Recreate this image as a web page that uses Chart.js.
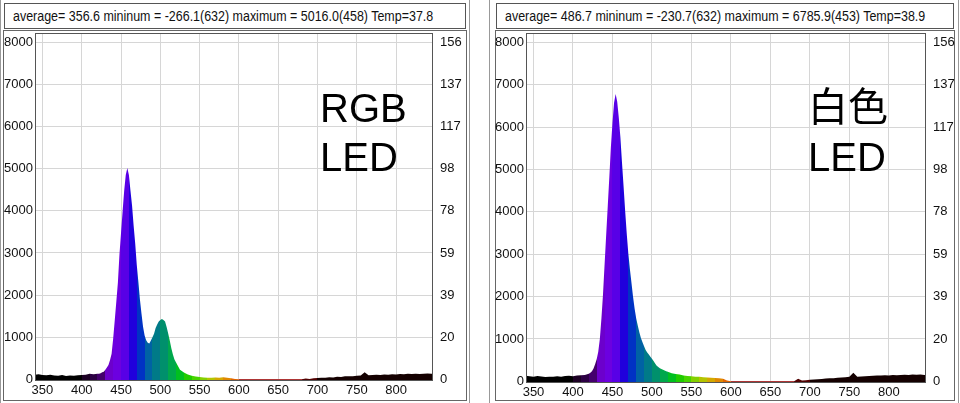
<!DOCTYPE html>
<html>
<head>
<meta charset="utf-8">
<script src="https://cdn.jsdelivr.net/npm/chart.js@4/dist/chart.umd.min.js"></script>
<style>
body{margin:0;width:960px;height:403px;overflow:hidden;background:#fff;position:relative;font-family:"Liberation Sans",Arial,sans-serif}
.frame{position:absolute;top:0;height:403px;border-left:1px solid #999;border-right:1px solid #999}
.head{position:absolute;top:3px;height:26px;border:1px solid #555;box-sizing:border-box;color:#111;white-space:nowrap;overflow:hidden}
.head span{position:absolute;left:8px;top:4px;font-size:14px;line-height:16px;transform:scaleX(0.89);transform-origin:0 0}
.box{position:absolute;top:30px;height:371px;border:1px solid #666;box-sizing:border-box;background:#fff}
canvas{position:absolute}
.big{position:absolute;font-family:"Liberation Sans","Noto Sans CJK SC",sans-serif;font-size:40px;line-height:40px;color:#000}
</style>
</head>
<body>
<div class="frame" style="left:0;width:468px"></div>
<div class="frame" style="left:489px;width:468px"></div>

<div class="head" style="left:4px;width:462px"><span>average= 356.6 mininum = -266.1(632) maximum = 5016.0(458) Temp=37.8</span></div>
<div class="box" style="left:3px;width:464px"></div>
<canvas id="rgbChart" width="468" height="369" style="left:0;top:31px"></canvas>
<div class="big" style="left:320px;top:88px">RGB</div>
<div class="big" style="left:320px;top:137px">LED</div>

<div class="head" style="left:496px;width:458px"><span>average= 486.7 mininum = -230.7(632) maximum = 6785.9(453) Temp=38.9</span></div>
<div class="box" style="left:495px;width:460px"></div>
<canvas id="whiteChart" width="470" height="371" style="left:490px;top:31px"></canvas>
<div class="big" style="left:808px;top:87px">白色</div>
<div class="big" style="left:808px;top:137px">LED</div>

<script>
// wavelength (nm) of each sample
const wavelengths = [
  340,345,350,355,360,365,370,375,380,385,390,395,400,405,410,415,420,
  422,424,426,428,430,432,434,436,438,440,442,444,446,448,450,452,454,456,458,460,
  462,464,466,468,470,472,474,476,478,480,482,484,486,488,490,492,494,496,498,500,
  502,504,506,508,510,512,514,516,518,520,
  525,530,535,540,545,550,555,560,565,570,575,580,585,590,595,
  600,605,610,615,620,625,630,635,640,645,650,655,660,665,670,675,680,
  685,690,695,700,705,710,715,720,725,730,735,740,745,750,755,760,765,770,775,780,
  785,790,795,800,805,810,815,820,825,830,835,840,845,850
];

// RGB LED spectrum
const rgbLed = [
  110,120,100,95,110,90,85,100,80,90,85,95,100,110,130,120,130,
  135,145,165,180,230,280,340,460,610,970,1400,1850,2300,2970,3480,3990,4480,4850,5016,4850,
  4480,4125,3650,3230,2720,2320,1900,1560,1250,1040,930,870,852,920,1000,1080,1220,1300,1370,1410,
  1430,1410,1370,1240,1090,920,740,590,470,400,
  230,160,115,85,68,55,45,40,35,45,40,50,35,25,10,
  0,0,0,0,0,0,0,0,0,0,0,0,0,0,0,0,0,
  20,10,25,30,35,40,50,45,60,55,70,75,70,85,90,170,95,100,110,105,
  115,110,120,115,125,120,130,125,135,125,130,140,130,135
];

// white LED spectrum
const whiteLed = [
  130,120,110,125,115,100,110,105,120,110,125,130,120,140,145,150,180,
  200,240,300,400,520,700,1000,1480,2050,2750,3450,4130,4820,5540,6100,6580,6786,6600,6220,5760,
  5180,4620,4040,3500,3030,2660,2330,2000,1720,1490,1320,1160,1020,920,830,740,680,630,580,530,
  480,420,370,340,310,290,270,255,240,225,
  190,170,160,140,125,120,110,105,95,90,85,80,75,60,20,
  0,0,0,0,0,0,0,0,0,0,0,0,0,0,0,0,0,
  60,20,25,35,40,50,55,65,70,75,85,90,95,110,200,110,115,120,125,130,
  140,135,145,140,150,145,150,155,150,160,155,160,150,155
];

// axis ticks
const xTicks = [350,400,450,500,550,600,650,700,750,800];
const yTicks = [0,1000,2000,3000,4000,5000,6000,7000,8000];
const rightLabels = [0,20,39,59,78,98,117,137,156];

// colour bands of the spectrum fill
const bandStarts = [340,400,410,420,430,440,450,460,470,480,490,500,510,520,530,540,550,560,570,580,590,600,680,700];
const bandColors = ['#000000','#1c0024','#2c0044','#44006c','#6c00cc','#6c00e0','#5800e6','#2000dc','#0032c4',
  '#0062a4','#007a88','#00906c','#00a84c','#00c020','#20cc00','#48d400','#84d000','#b4c400','#d4a800',
  '#e08800','#e06400','#a00000','#500000','#140000'];

function spectrumFill(context){
  const chart = context.chart;
  const area = chart.chartArea;
  if(!area) return '#000';
  const xs = chart.scales.x;
  const g = chart.ctx.createLinearGradient(area.left, 0, area.right, 0);
  const w = area.right - area.left;
  const pos = v => Math.min(1, Math.max(0, (xs.getPixelForValue(v) - area.left) / w));
  for(let i=0;i<bandStarts.length;i++){
    const a = i === 0 ? 0 : pos(bandStarts[i]);
    const b = i === bandStarts.length-1 ? 1 : pos(bandStarts[i+1]);
    g.addColorStop(a, bandColors[i]);
    g.addColorStop(b, bandColors[i]);
  }
  return g;
}

const tickFont = {family:'"Liberation Sans",Arial,sans-serif', size:13};

const frame = {
  id:'frame',
  afterDatasetsDraw(chart){
    const a = chart.chartArea, ctx = chart.ctx;
    ctx.save();
    ctx.strokeStyle = '#555';
    ctx.lineWidth = 1;
    ctx.strokeRect(a.left+0.5, a.top+0.5, a.right-a.left-1, a.bottom-a.top-1);
    ctx.restore();
  }
};

function noPad(s){ s.paddingTop=0; s.paddingBottom=0; s.paddingLeft=0; s.paddingRight=0; }

function makeChart(id, values, leftW, rightW){
  new Chart(document.getElementById(id), {
    type:'line',
    data:{
      datasets:[{
        data: wavelengths.map((w,i)=>({x:w, y:values[i]})),
        fill:'start',
        borderWidth:0,
        pointRadius:0,
        tension:0,
        backgroundColor: spectrumFill
      }]
    },
    options:{
      responsive:false,
      animation:false,
      layout:{padding:{top:2}},
      plugins:{legend:{display:false}, tooltip:{enabled:false}},
      scales:{
        x:{
          type:'linear', min:340.5, max:847,
          afterBuildTicks(s){ s.ticks = xTicks.map(v=>({value:v})); },
          ticks:{autoSkip:false, maxRotation:0, color:'#111', font:tickFont, padding:2},
          grid:{color:'#d6d6d6', drawTicks:false},
          border:{display:false},
          afterFit(s){ s.height = 19; noPad(s); }
        },
        y:{
          position:'left', min:-40, max:8224,
          afterBuildTicks(s){ s.ticks = yTicks.map(v=>({value:v})); },
          ticks:{color:'#111', font:tickFont, padding:2, callback: v => String(v)},
          grid:{color:'#d6d6d6', drawTicks:false},
          border:{display:false},
          afterFit(s){ s.width = leftW; noPad(s); }
        },
        y2:{
          position:'right', min:-40, max:8224,
          afterBuildTicks(s){ s.ticks = yTicks.map(v=>({value:v})); },
          ticks:{color:'#111', font:tickFont, padding:7,
                 callback: (v, i) => rightLabels[i]},
          grid:{display:false, drawTicks:false},
          border:{display:false},
          afterFit(s){ s.width = rightW; noPad(s); }
        }
      }
    },
    plugins:[frame]
  });
}

makeChart('rgbChart', rgbLed, 35, 35);
makeChart('whiteChart', whiteLed, 36, 34);
</script>
</body>
</html>
